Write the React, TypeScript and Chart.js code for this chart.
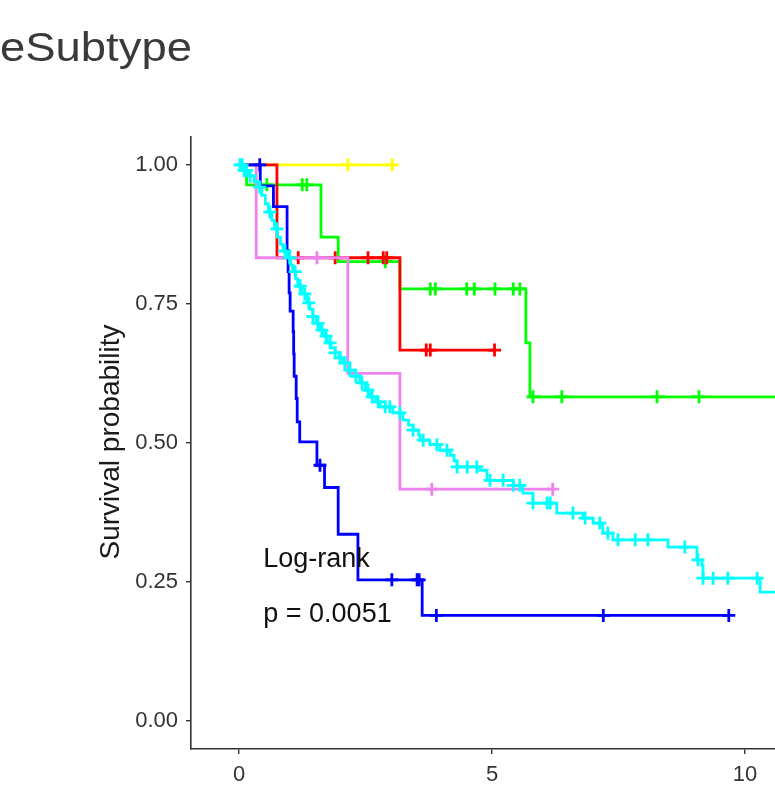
import React, { useEffect, useRef } from 'react';
import { Chart, registerables } from 'chart.js';

Chart.register(...registerables);

// ---------- text ----------
const TITLE = 'eSubtype';
const Y_LABEL = 'Survival probability';
const PVAL_LINES = ['Log-rank', 'p = 0.0051'];

// ---------- axes ----------
const X_TICKS = [0, 5, 10];
const Y_TICKS = [0, 0.25, 0.5, 0.75, 1.0];
const X_MIN = -0.949;
const X_MAX = 10.593;
const Y_MIN = -0.05;
const Y_MAX = 1.05;

// ---------- series (time in years, survival probability) ----------
const cyanTimes = [0, 0.1, 0.2, 0.3, 0.38, 0.45, 0.52, 0.58, 0.65, 0.7, 0.76, 0.82, 0.87, 0.95, 1.02, 1.06, 1.12, 1.16, 1.25, 1.34, 1.4, 1.46, 1.53, 1.6, 1.68, 1.74, 1.82, 1.9, 1.98, 2.06, 2.19, 2.3, 2.39, 2.5, 2.59, 2.7, 2.79, 3.04, 3.24, 3.35, 3.44, 3.55, 3.58, 3.77, 3.97, 4.17, 4.25, 4.31, 4.76, 4.9, 5.42, 5.61, 5.81, 6.28, 6.8, 7.0, 7.19, 7.39, 8.48, 9.05, 9.15, 9.17, 10.3, 10.7];
const cyanSurv = [1.0, 0.99, 0.98, 0.97, 0.96, 0.945, 0.93, 0.915, 0.9, 0.885, 0.87, 0.857, 0.845, 0.833, 0.82, 0.808, 0.795, 0.782, 0.768, 0.752, 0.74, 0.727, 0.715, 0.703, 0.692, 0.68, 0.671, 0.662, 0.653, 0.644, 0.631, 0.62, 0.608, 0.595, 0.583, 0.574, 0.565, 0.554, 0.541, 0.532, 0.523, 0.514, 0.505, 0.497, 0.487, 0.478, 0.468, 0.457, 0.451, 0.433, 0.424, 0.41, 0.392, 0.374, 0.365, 0.356, 0.338, 0.326, 0.313, 0.29, 0.28, 0.257, 0.232, 0.232];
const cyanCensor = [0.02, 0.06, 0.1, 0.15, 0.22, 0.41, 0.61, 0.75, 0.91, 1.0, 1.11, 1.21, 1.3, 1.38, 1.46, 1.56, 1.64, 1.72, 1.8, 1.9, 2.0, 2.09, 2.19, 2.31, 2.43, 2.55, 2.63, 2.75, 2.89, 2.98, 3.18, 3.44, 3.64, 3.91, 4.11, 4.31, 4.51, 4.7, 4.96, 5.22, 5.42, 5.55, 5.81, 6.09, 6.15, 6.6, 6.84, 7.13, 7.29, 7.49, 7.83, 8.08, 8.81, 9.07, 9.17, 9.37, 9.66, 10.24];

const blueTimes = [0, 0.42, 0.68, 0.95, 0.97, 0.99, 1.01, 1.07, 1.08, 1.09, 1.13, 1.15, 1.2, 1.54, 1.69, 1.96, 2.35, 3.62, 9.7];
const blueSurv = [1.0, 0.962, 0.925, 0.846, 0.808, 0.77, 0.737, 0.7, 0.66, 0.62, 0.58, 0.538, 0.502, 0.46, 0.42, 0.336, 0.254, 0.19, 0.19];
const blueCensor = [0.41, 1.6, 3.02, 3.52, 3.56, 3.9, 7.2, 9.68];

const violetTimes = [0, 0.34, 2.15, 3.18, 6.2];
const violetSurv = [1.0, 0.833, 0.625, 0.417, 0.417];
const violetCensor = [1.54, 3.81, 6.2];

const redTimes = [0, 0.75, 3.18, 5.05];
const redSurv = [1.0, 0.833, 0.667, 0.667];
const redCensor = [1.17, 1.9, 2.55, 2.85, 2.92, 3.7, 3.78, 5.05];

const greenTimes = [0, 0.15, 1.62, 1.96, 3.18, 5.67, 5.75, 10.7];
const greenSurv = [1.0, 0.964, 0.87, 0.826, 0.777, 0.68, 0.583, 0.583];
const greenCensor = [0.55, 1.25, 1.34, 2.89, 3.78, 3.88, 4.5, 4.65, 5.06, 5.42, 5.55, 5.81, 6.38, 8.26, 9.09];

const yellowTimes = [0, 3.03];
const yellowSurv = [1.0, 1.0];
const yellowCensor = [2.15, 3.03];

// annotation anchor (data coords)
const PVAL_X = 0.48;
const PVAL_Y = [0.277, 0.178];

const FONT = "'Liberation Sans', Arial, sans-serif";

function stepAt(times: number[], surv: number[], t: number) {
  let v = surv[0];
  for (let i = 0; i < times.length; i++) {
    if (times[i] <= t) v = surv[i];
  }
  return v;
}

function group(color: string, times: number[], surv: number[], censor: number[]) {
  return [
    {
      data: times.map((t, i) => ({ x: t, y: surv[i] })),
      showLine: true,
      stepped: 'before' as const,
      borderColor: color,
      backgroundColor: color,
      borderWidth: 2.8,
      pointRadius: 0,
      fill: false,
    },
    {
      data: censor.map((t) => ({ x: t, y: stepAt(times, surv, t) })),
      showLine: false,
      pointStyle: 'cross' as const,
      pointRadius: 6.5,
      pointBorderWidth: 2.8,
      borderColor: color,
      backgroundColor: color,
      pointBorderColor: color,
    },
  ];
}

const textPlugin = {
  id: 'kmTexts',
  afterDraw(chart: any) {
    const { ctx, scales } = chart;
    ctx.save();
    // title
    ctx.save();
    ctx.font = `40px ${FONT}`;
    ctx.fillStyle = '#3a3a3a';
    ctx.textAlign = 'left';
    ctx.textBaseline = 'alphabetic';
    const w = ctx.measureText(TITLE).width;
    ctx.filter = 'blur(0.7px)';
    ctx.translate(0, 61);
    ctx.scale(192 / w, 1);
    ctx.fillText(TITLE, 0, 0);
    ctx.restore();
    // y label
    ctx.save();
    ctx.font = `28px ${FONT}`;
    ctx.fillStyle = '#1a1a1a';
    ctx.textAlign = 'center';
    ctx.textBaseline = 'alphabetic';
    ctx.translate(119, 442);
    ctx.rotate(-Math.PI / 2);
    ctx.fillText(Y_LABEL, 0, 0);
    ctx.restore();
    // log-rank annotation
    ctx.font = `27px ${FONT}`;
    ctx.fillStyle = '#111';
    ctx.textAlign = 'left';
    ctx.textBaseline = 'alphabetic';
    const x = scales.x.getPixelForValue(PVAL_X);
    PVAL_LINES.forEach((s, i) => {
      ctx.fillText(s, x, scales.y.getPixelForValue(PVAL_Y[i]));
    });
    ctx.restore();
  },
};

export default function App() {
  const ref = useRef<HTMLCanvasElement>(null);
  useEffect(() => {
    document.body.style.margin = '0';
    const datasets = [
      ...group('#00FFFF', cyanTimes, cyanSurv, cyanCensor),
      ...group('#0000FF', blueTimes, blueSurv, blueCensor),
      ...group('#EE82EE', violetTimes, violetSurv, violetCensor),
      ...group('#FF0000', redTimes, redSurv, redCensor),
      ...group('#00FF00', greenTimes, greenSurv, greenCensor),
      ...group('#FFFF00', yellowTimes, yellowSurv, yellowCensor),
    ];
    const axisColor = '#333333';
    const chart = new Chart(ref.current as HTMLCanvasElement, {
      type: 'scatter',
      data: { datasets: datasets as any },
      plugins: [textPlugin],
      options: {
        animation: false,
        responsive: false,
        maintainAspectRatio: false,
        layout: { autoPadding: false, padding: { top: 137, left: 0, right: 0, bottom: 0 } },
        plugins: { legend: { display: false }, tooltip: { enabled: false }, title: { display: false } },
        scales: {
          x: {
            type: 'linear',
            min: X_MIN,
            max: X_MAX,
            afterFit: (s: any) => { s.height = 38; s.paddingLeft = 0; s.paddingRight = 0; },
            afterBuildTicks: (s: any) => { s.ticks = X_TICKS.map((v) => ({ value: v })); },
            border: { display: true, color: axisColor, width: 1.6 },
            grid: { display: true, drawOnChartArea: false, drawTicks: true, tickLength: 5, color: axisColor, lineWidth: 1.4 },
            ticks: {
              padding: 8,
              color: '#333',
              font: { family: FONT, size: 22 },
              maxRotation: 0,
              callback: (v: any) => String(v),
            },
          },
          y: {
            type: 'linear',
            min: Y_MIN,
            max: Y_MAX,
            afterFit: (s: any) => { s.width = 191; s.paddingTop = 0; s.paddingBottom = 0; },
            afterBuildTicks: (s: any) => { s.ticks = Y_TICKS.map((v) => ({ value: v })); },
            border: { display: true, color: axisColor, width: 1.6 },
            grid: { display: true, drawOnChartArea: false, drawTicks: true, tickLength: 5, color: axisColor, lineWidth: 1.4 },
            ticks: {
              padding: 8,
              color: '#333',
              font: { family: FONT, size: 22 },
              callback: (v: any) => Number(v).toFixed(2),
            },
          },
        },
      } as any,
    });
    return () => chart.destroy();
  }, []);
  return (
    <canvas
      ref={ref}
      width={775}
      height={787}
      style={{ display: 'block', width: 775, height: 787 }}
    />
  );
}
